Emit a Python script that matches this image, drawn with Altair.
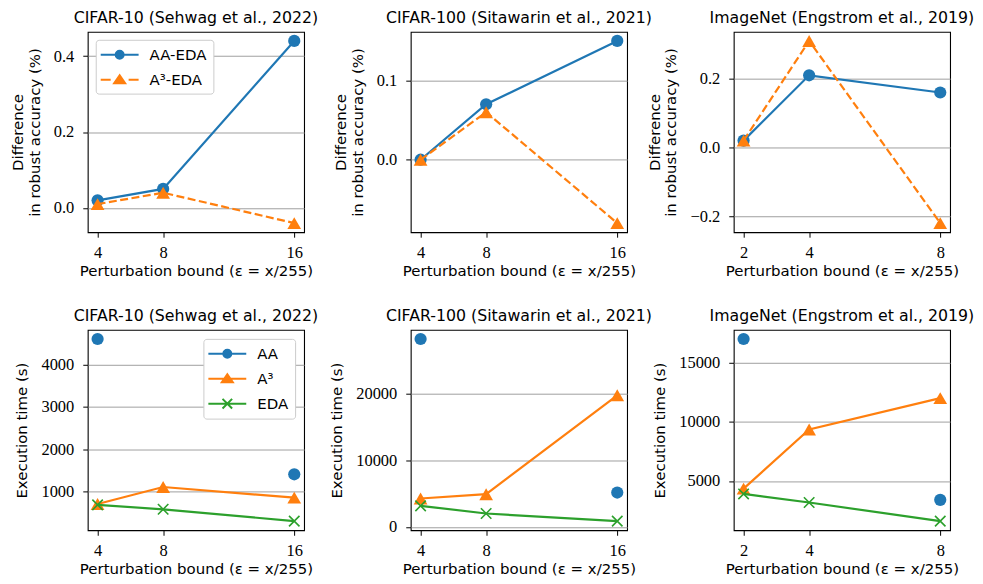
import altair as alt
import pandas as pd

BLUE, ORANGE, GREEN = "#1f77b4", "#ff7f0e", "#2ca02c"
SANS = "DejaVu Sans"
SERIF = "Liberation Serif, DejaVu Serif, serif"

# ---------------- data ----------------
titles = ["CIFAR-10 (Sehwag et al., 2022)",
          "CIFAR-100 (Sitawarin et al., 2021)",
          "ImageNet (Engstrom et al., 2019)"]
eps_cifar10 = [4, 8, 16]
eps_cifar100 = [4, 8, 16]
eps_imagenet = [2, 4, 8]

# difference in robust accuracy (%)
diff_aa_eda_cifar10 = [0.02, 0.05, 0.44]
diff_a3_eda_cifar10 = [0.01, 0.04, -0.04]
diff_aa_eda_cifar100 = [0.0, 0.07, 0.15]
diff_a3_eda_cifar100 = [0.0, 0.06, -0.08]
diff_aa_eda_imagenet = [0.02, 0.21, 0.16]
diff_a3_eda_imagenet = [0.02, 0.31, -0.22]

# execution time (s)
time_aa_cifar10 = [4600, None, 1410]
time_a3_cifar10 = [710, 1110, 860]
time_eda_cifar10 = [690, 585, 305]
time_aa_cifar100 = [28200, None, 5150]
time_a3_cifar100 = [4250, 4900, 19750]
time_eda_cifar100 = [3150, 2000, 850]
time_aa_imagenet = [17000, None, 3400]
time_a3_imagenet = [4350, 9350, 12000]
time_eda_imagenet = [3900, 3180, 1600]

xticks_all = [[4, 8, 16], [4, 8, 16], [2, 4, 8]]
yticks_diff = [[0.0, 0.2, 0.4], [0.0, 0.1], [-0.2, 0.0, 0.2]]
yticks_time = [[1000, 2000, 3000, 4000], [0, 10000, 20000], [5000, 10000, 15000]]

diff_names = ["AA-EDA", "A³-EDA"]
time_names = ["AA", "A³", "EDA"]

XTITLE = "Perturbation bound (ε = x/255)"

# marker paths
X_PATH = "M-1,-1L1,1M-1,1L1,-1"
# legend symbols (line + marker), unit = sqrt(symbolSize)/2 px
LEG_CIRCLE = "M-1.25,0H3.5M1.625,0A0.5,0.5,0,1,1,0.625,0A0.5,0.5,0,1,1,1.625,0Z"
LEG_TRI_DASH = "M-1.25,0H0M2.25,0H3.5M1.125,-0.55L0.435,0.45L1.815,0.45Z"
LEG_TRI = "M-1.25,0H3.5M1.125,-0.55L0.435,0.45L1.815,0.45Z"
LEG_X = "M-1.25,0H3.5M0.525,-0.6L1.725,0.6M0.525,0.6L1.725,-0.6"

LW = 2.2


def margin_domain(vals):
    v = [a for a in vals if a is not None]
    lo, hi = min(v), max(v)
    m = (hi - lo) * 0.05
    return [lo - m, hi + m]


def encs(xs_all, ys_all, xt, yt, ytitle, yfmt):
    xenc = alt.X("eps:Q", scale=alt.Scale(domain=margin_domain(xs_all), nice=False, zero=False),
                 axis=alt.Axis(values=xt, format="d", title=XTITLE, grid=False))
    yenc = alt.Y("value:Q", scale=alt.Scale(domain=margin_domain(ys_all), nice=False, zero=False),
                 axis=alt.Axis(values=yt, format=yfmt, title=ytitle))
    return xenc, yenc


def legend_layer(names, colors, paths, orient, offset, xenc, yenc):
    df = pd.DataFrame({"series": names, "eps": [None] * len(names), "value": [None] * len(names)})
    leg = alt.Legend(title=None, orient=orient, offset=offset)
    return alt.Chart(df).mark_point(filled=True, size=256, strokeWidth=2, opacity=1, invalid="filter").encode(
        x=xenc, y=yenc,
        fill=alt.Fill("series:N", scale=alt.Scale(domain=names, range=colors), legend=leg),
        stroke=alt.Stroke("series:N", scale=alt.Scale(domain=names, range=colors), legend=leg),
        shape=alt.Shape("series:N", scale=alt.Scale(domain=names, range=paths), legend=leg),
    )


def diff_panel(i, eps, aa, a3, legend):
    xenc, yenc = encs(eps, aa + a3, xticks_all[i], yticks_diff[i],
                      ["Difference", "in robust accuracy (%)"], ".1f")
    c_aa = alt.Chart(pd.DataFrame({"eps": eps, "value": aa})).encode(x=xenc, y=yenc)
    c_a3 = alt.Chart(pd.DataFrame({"eps": eps, "value": a3})).encode(x=xenc, y=yenc)
    layers = [
        c_aa.mark_line(color=BLUE, strokeWidth=LW),
        c_aa.mark_point(shape="circle", filled=True, color=BLUE, size=150, opacity=1),
        c_a3.mark_line(color=ORANGE, strokeWidth=LW, strokeDash=[8, 3.5]),
        c_a3.mark_point(shape="triangle-up", filled=True, color=ORANGE, size=190, opacity=1),
    ]
    if legend:
        layers.append(legend_layer(diff_names, [BLUE, ORANGE], [LEG_CIRCLE, LEG_TRI_DASH],
                                   "top-left", 8, xenc, yenc))
    return alt.layer(*layers).properties(width=217, height=201, title=titles[i])


def time_panel(i, eps, aa, a3, eda, legend):
    xenc, yenc = encs(eps, aa + a3 + eda, xticks_all[i], yticks_time[i], "Execution time (s)", "d")
    c_aa = alt.Chart(pd.DataFrame({"eps": eps, "value": aa})).encode(x=xenc, y=yenc)
    c_a3 = alt.Chart(pd.DataFrame({"eps": eps, "value": a3})).encode(x=xenc, y=yenc)
    c_eda = alt.Chart(pd.DataFrame({"eps": eps, "value": eda})).encode(x=xenc, y=yenc)
    layers = [
        c_aa.mark_point(shape="circle", filled=True, color=BLUE, size=150, opacity=1, invalid="filter"),
        c_a3.mark_line(color=ORANGE, strokeWidth=LW),
        c_a3.mark_point(shape="triangle-up", filled=True, color=ORANGE, size=190, opacity=1),
        c_eda.mark_line(color=GREEN, strokeWidth=LW),
        c_eda.mark_point(shape=X_PATH, filled=False, color=GREEN, size=110, strokeWidth=1.6, opacity=1),
    ]
    if legend:
        layers.append(legend_layer(time_names, [BLUE, ORANGE, GREEN], [LEG_CIRCLE, LEG_TRI, LEG_X],
                                   "top-right", 9, xenc, yenc))
    return alt.layer(*layers).properties(width=217, height=201, title=titles[i])


panels = [
    diff_panel(0, eps_cifar10, diff_aa_eda_cifar10, diff_a3_eda_cifar10, True),
    diff_panel(1, eps_cifar100, diff_aa_eda_cifar100, diff_a3_eda_cifar100, False),
    diff_panel(2, eps_imagenet, diff_aa_eda_imagenet, diff_a3_eda_imagenet, False),
    time_panel(0, eps_cifar10, time_aa_cifar10, time_a3_cifar10, time_eda_cifar10, True),
    time_panel(1, eps_cifar100, time_aa_cifar100, time_a3_cifar100, time_eda_cifar100, False),
    time_panel(2, eps_imagenet, time_aa_imagenet, time_a3_imagenet, time_eda_imagenet, False),
]

chart = alt.concat(*panels, columns=3, spacing={"row": 98, "column": 107}, bounds="flush",
                   padding={"left": 1, "top": 0, "right": 0, "bottom": 4})
chart = chart.resolve_scale(x="independent", y="independent", fill="independent",
                            stroke="independent", shape="independent").resolve_legend(
    fill="independent", stroke="independent", shape="independent")

chart = (chart
         .configure_view(stroke="black", strokeWidth=1.1)
         .configure_axis(labelFont=SERIF, labelFontSize=16.5, labelColor="black",
                         titleFont=SANS, titleFontSize=15, titleFontWeight="normal", titleColor="black",
                         tickColor="black", tickSize=5, tickWidth=1, domain=False,
                         gridColor="#a0a0a0", gridWidth=1, minExtent=0, labelFlush=False)
         .configure_axisX(labelPadding=7, titlePadding=3)
         .configure_axisY(labelPadding=9, titlePadding=11, titleLineHeight=17)
         .configure_title(font=SANS, fontSize=15.8, fontWeight="normal", color="black", offset=5, anchor="middle")
         .configure_legend(fillColor="white", strokeColor="#cccccc", cornerRadius=3, padding=6,
                           rowPadding=8, labelFont=SANS, labelFontSize=15, labelColor="black",
                           labelOffset=30, symbolSize=256, symbolStrokeWidth=2))

chart.save("out.html", embed_options={"renderer": "svg", "actions": False})
